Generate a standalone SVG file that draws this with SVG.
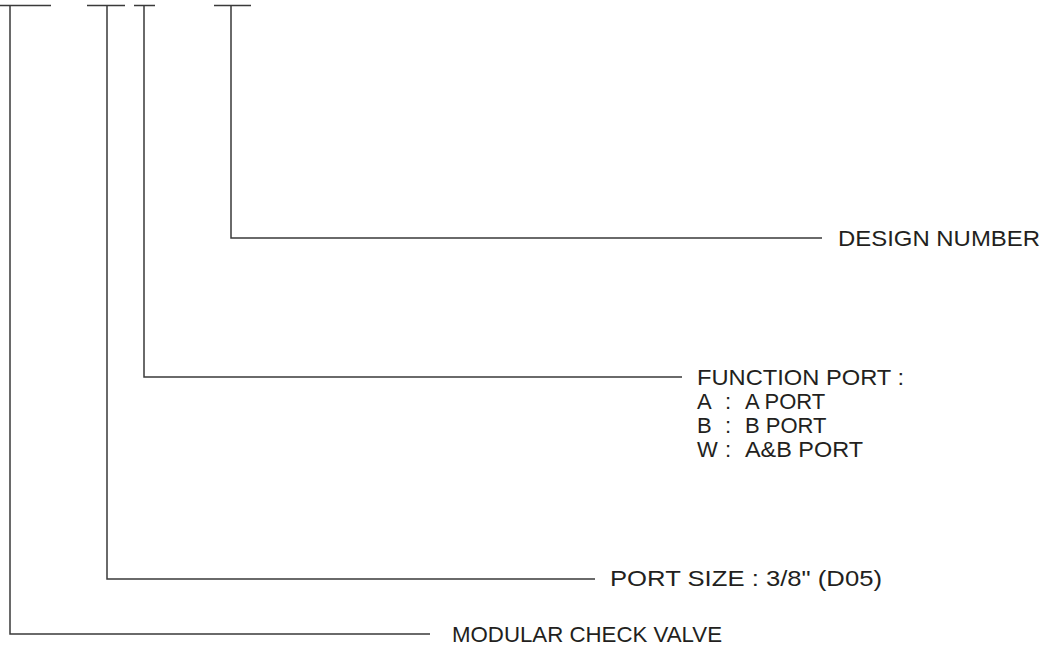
<svg xmlns="http://www.w3.org/2000/svg" width="1055" height="646" viewBox="0 0 1055 646">
<style>
.ln{fill:none;stroke:#3a3a3a;stroke-width:1.5}
.t{font-family:"Liberation Sans",Arial,sans-serif;font-size:22px;fill:#231f20}
</style>
<rect width="1055" height="646" fill="#fff"/>
<g id="connectors">
<path class="ln" d="M0,5.5H51M10,5.5V634H430"/>
<path class="ln" d="M87,5.5H125M107,5.5V579H595"/>
<path class="ln" d="M134,5.5H155M144,5.5V377H682"/>
<path class="ln" d="M214,5.5H251M231,5.5V238H822"/>
</g>
<g id="design-number"><text class="t" x="838" y="246" textLength="202" lengthAdjust="spacingAndGlyphs">DESIGN NUMBER</text></g>
<g id="function-port">
<text class="t" x="697" y="385" textLength="207" lengthAdjust="spacingAndGlyphs">FUNCTION PORT :</text>
<text class="t" y="409"><tspan x="697">A</tspan><tspan x="725">:</tspan><tspan x="745">A PORT</tspan></text>
<text class="t" y="433"><tspan x="697">B</tspan><tspan x="725">:</tspan><tspan x="745">B PORT</tspan></text>
<text class="t" y="457"><tspan x="697">W</tspan><tspan x="725">:</tspan><tspan x="745" textLength="118" lengthAdjust="spacingAndGlyphs">A&amp;B PORT</tspan></text>
</g>
<g id="port-size"><text class="t" x="610" y="586" textLength="272" lengthAdjust="spacingAndGlyphs">PORT SIZE : 3/8" (D05)</text></g>
<g id="modular-check-valve"><text class="t" x="452" y="642" textLength="270" lengthAdjust="spacingAndGlyphs">MODULAR CHECK VALVE</text></g>
</svg>
